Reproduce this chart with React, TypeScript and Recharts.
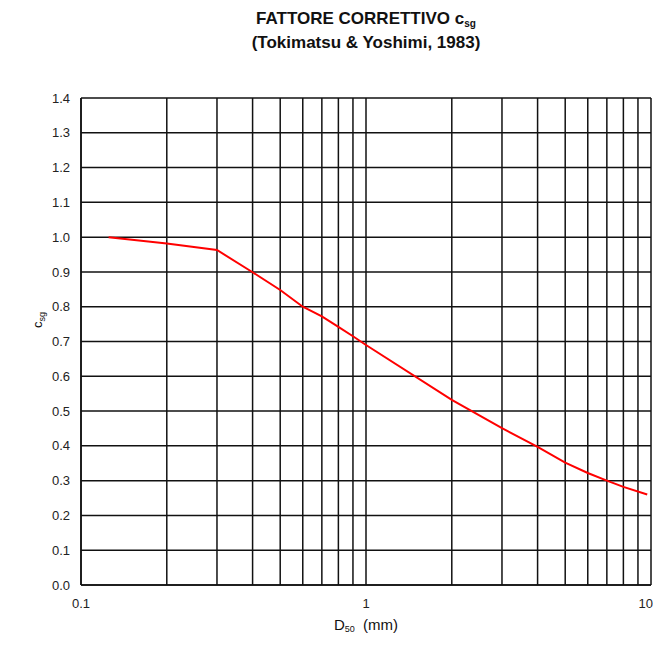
import React from "react";
import { LineChart, Line, XAxis, YAxis, CartesianGrid, Customized } from "recharts";

const d50: number[] = [0.125, 0.2, 0.3, 0.4, 0.5, 0.6, 0.7, 0.8, 0.9, 1, 2, 3, 4, 5, 6, 7, 8, 9.7];
const csg: number[] = [1.0, 0.982, 0.963, 0.899, 0.848, 0.8, 0.772, 0.742, 0.715, 0.69, 0.532, 0.451, 0.397, 0.352, 0.322, 0.3, 0.282, 0.26];

const xTicks: number[] = [0.1, 0.2, 0.3, 0.4, 0.5, 0.6, 0.7, 0.8, 0.9, 1, 2, 3, 4, 5, 6, 7, 8, 9, 10];
const xLabelTicks: number[] = [0.1, 1, 10];
const yTicks: number[] = [0, 0.1, 0.2, 0.3, 0.4, 0.5, 0.6, 0.7, 0.8, 0.9, 1.0, 1.1, 1.2, 1.3, 1.4];

const titleLine1 = "FATTORE CORRETTIVO c";
const titleSub = "sg";
const titleLine2 = "(Tokimatsu & Yoshimi, 1983)";

const data = d50.map((x, i) => ({ x, y: csg[i] }));

const FONT = "'Liberation Sans', Arial, Helvetica, sans-serif";
const CHART_W = 645;
const CHART_H = 629;

const Texts = () => (
  <g fontFamily={FONT} fill="#111">
    <text x={358} y={16} textAnchor="middle" fontSize={17} fontWeight="bold">
      {titleLine1}
      <tspan fontSize={10} dy={3}>{titleSub}</tspan>
    </text>
    <text x={358} y={40} textAnchor="middle" fontSize={17} fontWeight="bold">
      {titleLine2}
    </text>
    <text x={358} y={622} textAnchor="middle" fontSize={15}>
      D<tspan fontSize={9} dy={2}>50</tspan>
      <tspan dy={-2}>{"\u00a0\u00a0(mm)"}</tspan>
    </text>
    <text x={34} y={312} textAnchor="middle" fontSize={13} transform="rotate(-90 34 312)">
      c<tspan fontSize={9} dy={3}>sg</tspan>
    </text>
  </g>
);

const XTick = (props: any) => {
  const { x, y, payload } = props;
  const v: number = payload.value;
  if (!xLabelTicks.includes(v)) return <g />;
  const last = v === xLabelTicks[xLabelTicks.length - 1];
  const tx = last ? Math.min(x + 7, CHART_W) : x;
  return (
    <text
      x={tx}
      y={y}
      dy="0.71em"
      textAnchor={last ? "end" : "middle"}
      fontSize={13}
      fill="#222"
      fontFamily={FONT}
    >
      {String(v)}
    </text>
  );
};

export default function App() {
  return (
    <LineChart
      width={CHART_W}
      height={CHART_H}
      data={data}
      margin={{ top: 90, right: 2, bottom: 22, left: 23 }}
    >
      <CartesianGrid stroke="#111" strokeWidth={1.5} strokeOpacity={1} />
      <XAxis
        dataKey="x"
        type="number"
        scale="log"
        domain={[0.1, 10]}
        ticks={xTicks}
        interval={0}
        allowDataOverflow
        tickLine={false}
        axisLine={{ stroke: "#111", strokeWidth: 1.5 }}
        tickSize={6}
        tickMargin={8}
        height={30}
        tick={<XTick />}
      />
      <YAxis
        type="number"
        domain={[0, 1.4]}
        ticks={yTicks}
        interval={0}
        tickLine={false}
        axisLine={{ stroke: "#111", strokeWidth: 1.5 }}
        tickSize={6}
        tickMargin={5}
        width={50}
        tick={{ fontSize: 13, fill: "#222", fontFamily: FONT }}
        tickFormatter={(v: number) => v.toFixed(1)}
      />
      <Line
        dataKey="y"
        type="linear"
        stroke="#ff0000"
        strokeWidth={2}
        dot={false}
        isAnimationActive={false}
      />
      <Customized component={Texts} />
    </LineChart>
  );
}
